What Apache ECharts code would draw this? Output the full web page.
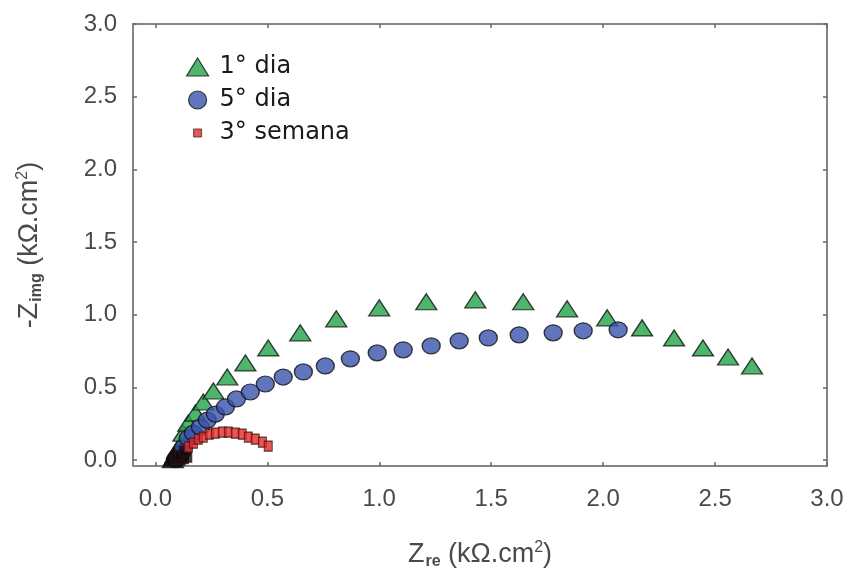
<!DOCTYPE html>
<html>
<head>
<meta charset="utf-8">
<script src="https://cdn.jsdelivr.net/npm/echarts@6/dist/echarts.min.js"></script>
<style>html,body{margin:0;padding:0;background:#fff}#c{width:851px;height:572px}</style>
</head>
<body>
<div id="c"></div>
<script>
const seriesNames = ['1° dia', '5° dia', '3° semana'];
const tickValues = [0, 0.5, 1.0, 1.5, 2.0, 2.5, 3.0];

const dia1 = [
  [0.078, 0.004], [0.084, 0.020], [0.090, 0.040], [0.096, 0.065], [0.107, 0.095],
  [0.125, 0.186], [0.147, 0.255], [0.179, 0.324], [0.214, 0.400], [0.259, 0.476],
  [0.321, 0.572], [0.402, 0.669], [0.504, 0.772], [0.647, 0.876], [0.808, 0.972],
  [1.000, 1.048], [1.210, 1.090], [1.429, 1.103], [1.643, 1.090], [1.839, 1.041],
  [2.018, 0.979], [2.174, 0.910], [2.317, 0.841], [2.446, 0.772], [2.558, 0.710],
  [2.665, 0.648]
];
const dia5 = [
  [0.090, 0.004], [0.100, 0.020], [0.110, 0.040], [0.118, 0.060], [0.125, 0.085],
  [0.147, 0.152], [0.170, 0.186], [0.201, 0.228], [0.232, 0.276], [0.268, 0.317],
  [0.313, 0.366], [0.362, 0.421], [0.424, 0.469], [0.491, 0.524], [0.571, 0.572],
  [0.661, 0.607], [0.759, 0.648], [0.871, 0.697], [0.991, 0.738], [1.107, 0.759],
  [1.232, 0.786], [1.357, 0.821], [1.487, 0.841], [1.625, 0.862], [1.777, 0.876],
  [1.911, 0.890], [2.067, 0.897]
];
const semana3 = [
  [0.085, 0.004], [0.100, 0.008], [0.115, 0.006], [0.130, 0.010], [0.145, 0.020],
  [0.094, 0.018], [0.107, 0.034], [0.125, 0.062], [0.147, 0.090],
  [0.170, 0.117], [0.192, 0.145], [0.214, 0.159], [0.241, 0.179], [0.268, 0.186],
  [0.299, 0.193], [0.326, 0.193], [0.357, 0.186], [0.388, 0.179], [0.415, 0.159],
  [0.446, 0.145], [0.478, 0.124], [0.504, 0.097]
];

const chart = echarts.init(document.getElementById('c'), null, {renderer: 'canvas'});
const FONT = 'Liberation Sans, Arial, sans-serif';
const labelFont = {fontFamily: FONT, fontSize: 24, color: '#4a4a4a'};
const axisLineStyle = {color: '#858585', width: 2};

function darkNearOrigin(base) {
  return p => (p.value[1] < 0.075 ? '#0d0d0d' : base);
}

function mainAxis(extra) {
  return Object.assign({
    type: 'value', max: 3.0,
    axisLine: {show: true, onZero: false, lineStyle: axisLineStyle},
    axisTick: {show: true, inside: true, length: 4, lineStyle: {color: '#666', width: 1.5}, customValues: tickValues},
    splitLine: {show: false}
  }, extra);
}
function mirrorAxis(extra) {
  return Object.assign({
    type: 'value', max: 3.0,
    axisLine: {show: true, onZero: false, lineStyle: axisLineStyle},
    axisTick: {show: true, inside: true, length: 4, lineStyle: {color: '#666', width: 1.5}, customValues: tickValues},
    axisLabel: {show: false, customValues: tickValues},
    splitLine: {show: false}
  }, extra);
}

const titleRich = {
  z: {fontFamily: FONT, fontSize: 27, color: '#4a4a4a'},
  sub: {fontFamily: FONT, fontSize: 16, fontWeight: 'bold', color: '#4a4a4a', padding: [15, 0, 0, 1]},
  sup: {fontFamily: FONT, fontSize: 16, color: '#4a4a4a', padding: [0, 0, 13, 0]}
};

chart.setOption({
  animation: false,
  backgroundColor: '#ffffff',
  grid: {left: 133, right: 24, top: 24, bottom: 106, containLabel: false, outerBoundsMode: 'none'},
  legend: {
    orient: 'vertical', left: 181, top: 50, itemGap: 9, itemWidth: 22, itemHeight: 18,
    textStyle: {fontFamily: 'DejaVu Sans, sans-serif', fontSize: 24, color: '#1a1a1a', lineHeight: 22, padding: [0, 0, 0, 6]},
    data: [
      {name: seriesNames[0], itemStyle: {color: '#22a447', borderColor: '#111', borderWidth: 1.2}},
      {name: seriesNames[1], itemStyle: {color: '#3a52ac', borderColor: '#111', borderWidth: 1.2}},
      {name: seriesNames[2], icon: 'path://M0,0 M22,18 M7,5 L15,5 L15,13 L7,13 Z', itemStyle: {color: '#e52a2a', borderColor: '#333', borderWidth: 1}}
    ]
  },
  xAxis: [
    mainAxis({min: -0.1, position: 'bottom',
      axisLabel: Object.assign({customValues: tickValues, formatter: v => v.toFixed(1), margin: 21}, labelFont),
      name: '{z|Z}{sub|re}{z| (kΩ.cm}{sup|2}{z|)}', nameLocation: 'middle', nameGap: 73,
      nameTextStyle: {rich: titleRich}}),
    mirrorAxis({min: -0.1, position: 'top'})
  ],
  yAxis: [
    mainAxis({min: -0.04, position: 'left',
      axisLabel: Object.assign({customValues: tickValues, formatter: v => v.toFixed(1), margin: 16}, labelFont),
      name: '{z|-Z}{sub|img}{z| (kΩ.cm}{sup|2}{z|)}', nameLocation: 'middle', nameGap: 88, nameRotate: 90,
      nameTextStyle: {rich: titleRich}}),
    mirrorAxis({min: -0.04, position: 'right'})
  ],
  series: [
    {
      name: seriesNames[2], type: 'scatter', data: semana3, symbol: 'rect', symbolSize: [8, 10],
      itemStyle: {color: darkNearOrigin('#e52a2a'), borderColor: '#3a1010', borderWidth: 1}, z: 3
    },
    {
      name: seriesNames[1], type: 'scatter', data: dia5, symbol: 'circle', symbolSize: [18, 16],
      itemStyle: {color: darkNearOrigin('#3a52ac'), borderColor: '#111', borderWidth: 1.3}, z: 2
    },
    {
      name: seriesNames[0], type: 'scatter', data: dia1, symbol: 'triangle', symbolSize: [21, 16],
      itemStyle: {color: darkNearOrigin('#22a447'), borderColor: '#111', borderWidth: 1.3}, z: 1
    }
  ]
});
</script>
</body>
</html>
